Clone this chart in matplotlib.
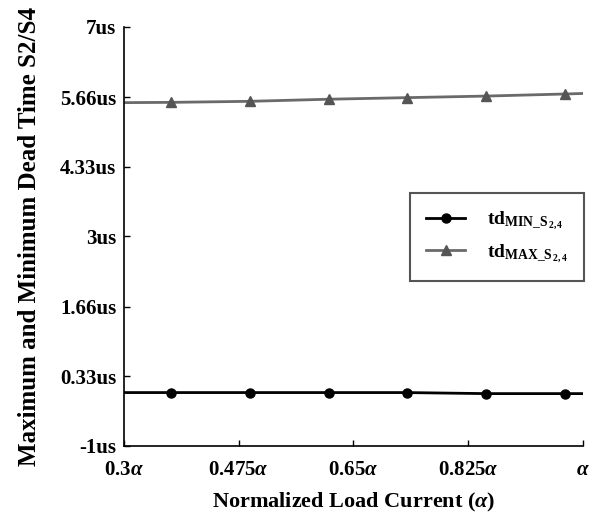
import matplotlib
matplotlib.use('Agg')
import matplotlib.pyplot as plt
import numpy as np

plt.rcParams['font.family'] = 'Liberation Serif'
plt.rcParams['font.weight'] = 'bold'
plt.rcParams['mathtext.fontset'] = 'custom'
plt.rcParams['mathtext.rm'] = 'Liberation Serif:bold'
plt.rcParams['mathtext.bf'] = 'Liberation Serif:bold'
plt.rcParams['mathtext.it'] = 'Liberation Serif:italic:bold'

# data (load current in units of alpha, dead time in us)
alpha = [0.3, 0.371, 0.492, 0.612, 0.731, 0.852, 0.973, 1.0]
td_min = [0.02, 0.02, 0.02, 0.02, 0.02, 0.0, 0.0, 0.0]
td_max = [5.555, 5.56, 5.58, 5.62, 5.65, 5.68, 5.72, 5.73]

yticks = [-1, 0.33, 1.66, 3, 4.33, 5.66, 7]
ytick_labels = ['-1us', '0.33us', '1.66us', '3us', '4.33us', '5.66us', '7us']
xticks = [0.3, 0.475, 0.65, 0.825, 1.0]
xtick_labels = [r'0.3$\alpha$', r'0.475$\alpha$', r'0.65$\alpha$', r'0.825$\alpha$', r'$\alpha$']

fig = plt.figure(figsize=(6.11, 5.18), dpi=100)
ax = fig.add_axes([0.203, 0.139, 0.751, 0.809])

marks = list(range(1, 7))
ax.plot(alpha, td_min, color='black', lw=2, marker='o', ms=6.5,
        markevery=marks, label=r'$\mathbf{td}_{\mathrm{MIN\_S}_{\,2,4}}$')
ax.plot(alpha, td_max, color='#6a6a6a', lw=2, marker='^', ms=7.5,
        mfc='#555555', mec='#555555', markevery=marks,
        label=r'$\mathbf{td}_{\mathrm{MAX\_S}_{\,2,4}}$')

ax.set_xlim(0.3, 1.0)
ax.set_ylim(-1, 7)
ax.set_yticks(yticks)
ax.set_yticklabels(ytick_labels)
ax.set_xticks(xticks)
ax.set_xticklabels(xtick_labels)
ax.tick_params(direction='in', length=4, width=1, labelsize=15, pad=5.5)
ax.tick_params(axis='x', pad=10)

ax.spines['top'].set_visible(False)
ax.spines['right'].set_visible(False)
ax.spines['left'].set_linewidth(1.2)
ax.spines['bottom'].set_linewidth(1.2)

ax.set_xlabel(r'Normalized Load Current ($\alpha$)', fontsize=16, fontweight='bold', labelpad=8)
ax.set_ylabel('Maximum and Minimum Dead Time S2/S4', fontsize=18, fontweight='bold', labelpad=14)

leg = ax.legend(loc='upper left', bbox_to_anchor=(0.623, 0.603), fontsize=14,
                fancybox=False, edgecolor='#555555', framealpha=1,
                handlelength=2.0, handletextpad=1.1, borderpad=0.85,
                labelspacing=0.5, borderaxespad=0)
leg.get_frame().set_linewidth(1.5)

fig.savefig('out.png', dpi=100)
